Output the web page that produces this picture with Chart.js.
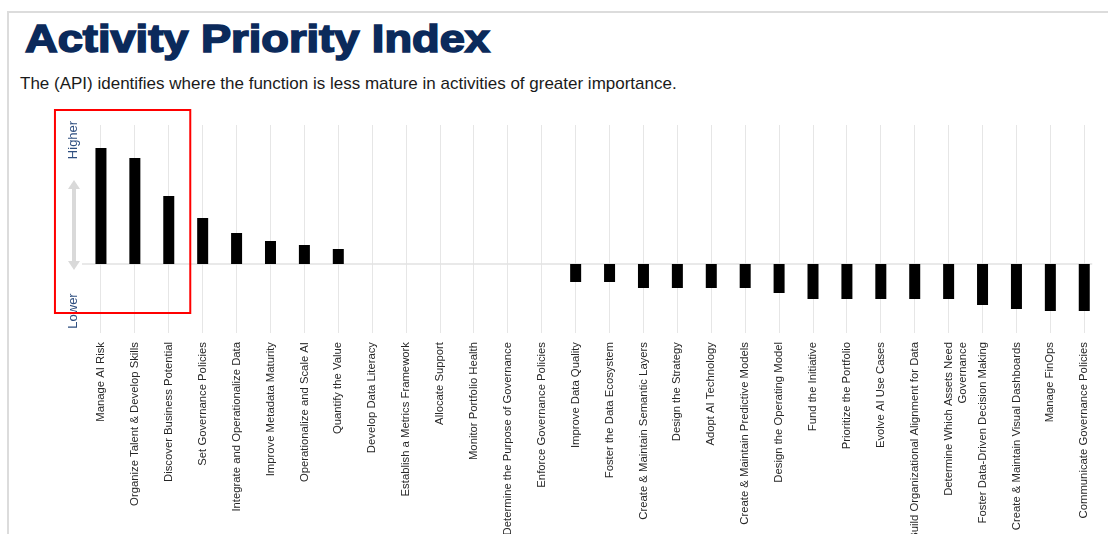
<!DOCTYPE html>
<html>
<head>
<meta charset="utf-8">
<script src="https://cdn.jsdelivr.net/npm/chart.js@4"></script>
<style>
  html, body { margin: 0; padding: 0; background: #ffffff; overflow: hidden; width: 1108px; height: 534px; }
  #frame { position: absolute; left: 7px; top: 11px; width: 1200px; height: 700px; border-top: 2px solid #dcdcdc; border-left: 2px solid #dcdcdc; }
  #title { position: absolute; left: 25px; top: 20px; font-family: "Liberation Sans", Arial, sans-serif; font-weight: bold; font-size: 38px; line-height: 38px; color: #0b2a5b; -webkit-text-stroke: 1.6px #0b2a5b; white-space: nowrap; transform-origin: 0 0; }
  #subtitle { position: absolute; left: 20px; top: 76px; font-family: "Liberation Sans", Arial, sans-serif; font-size: 17px; line-height: 16px; color: #1a1a1a; white-space: nowrap; }
  #wrap { position: absolute; left: 0; top: 0; width: 1108px; height: 640px; }
</style>
</head>
<body>
<div id="frame"></div>
<div id="title">Activity Priority Index</div>
<div id="subtitle">The (API) identifies where the function is less mature in activities of greater importance.</div>
<div id="wrap"><canvas id="c" width="1108" height="640"></canvas></div>
<script>
// ---- data ----
const categories = [
  "Manage AI Risk",
  "Organize Talent & Develop Skills",
  "Discover Business Potential",
  "Set Governance Policies",
  "Integrate and Operationalize Data",
  "Improve Metadata Maturity",
  "Operationalize and Scale AI",
  "Quantify the Value",
  "Develop Data Literacy",
  "Establish a Metrics Framework",
  "Allocate Support",
  "Monitor Portfolio Health",
  "Determine the Purpose of Governance",
  "Enforce Governance Policies",
  "Improve Data Quality",
  "Foster the Data Ecosystem",
  "Create & Maintain Semantic Layers",
  "Design the Strategy",
  "Adopt AI Technology",
  "Create & Maintain Predictive Models",
  "Design the Operating Model",
  "Fund the Initiative",
  "Prioritize the Portfolio",
  "Evolve AI Use Cases",
  "Build Organizational Alignment for Data",
  ["Determine Which Assets Need", "Governance"],
  "Foster Data-Driven Decision Making",
  "Create & Maintain Visual Dashboards",
  "Manage FinOps",
  "Communicate Governance Policies"
];
const priorityIndex = [
  11.6, 10.6, 6.8, 4.6, 3.1, 2.3, 1.9, 1.5,
  0, 0, 0, 0, 0, 0,
  -1.8, -1.8, -2.4, -2.4, -2.4, -2.4, -2.9,
  -3.5, -3.5, -3.5, -3.5, -3.5, -4.1, -4.5, -4.7, -4.7
];
const axisLabels = { high: "Higher", low: "Lower" };
const yRange = { min: -6.1, max: 13.9 };
const highlightCount = 3;

// stretch title to the reference's heavy, wide face
(function () {
  const t = document.getElementById('title');
  const w = t.getBoundingClientRect().width;
  t.style.transform = 'scaleX(' + (465 / w) + ')';
})();

// ---- decorations plugin ----
const decor = {
  id: 'decor',
  beforeDatasetsDraw(chart) {
    const ctx = chart.ctx, ca = chart.chartArea;
    const xs = chart.scales.x, ys = chart.scales.y;
    const y0 = ys.getPixelForValue(0);
    ctx.save();
    ctx.strokeStyle = '#e2e2e2';
    ctx.lineWidth = 1.5;
    ctx.beginPath();
    ctx.moveTo(ca.left - 2, y0);
    ctx.lineTo(xs.getPixelForValue(categories.length - 1) + 8, y0);
    ctx.stroke();
    const ax = ca.left - 10;
    const aTop = ca.top + 55, aBot = ca.top + 145;
    ctx.fillStyle = '#d9d9d9';
    ctx.fillRect(ax - 2, aTop + 8, 4, aBot - aTop - 16);
    ctx.beginPath();
    ctx.moveTo(ax, aTop); ctx.lineTo(ax + 6, aTop + 9); ctx.lineTo(ax - 6, aTop + 9); ctx.closePath(); ctx.fill();
    ctx.beginPath();
    ctx.moveTo(ax, aBot); ctx.lineTo(ax + 6, aBot - 9); ctx.lineTo(ax - 6, aBot - 9); ctx.closePath(); ctx.fill();
    ctx.fillStyle = '#2f4f80';
    ctx.font = '13px "Liberation Sans", Arial, sans-serif';
    ctx.textAlign = 'center';
    ctx.textBaseline = 'middle';
    ctx.save();
    ctx.translate(ax - 1, ca.top + 15);
    ctx.rotate(-Math.PI / 2);
    ctx.fillText(axisLabels.high, 0, 0);
    ctx.restore();
    ctx.save();
    ctx.translate(ax - 1, ca.top + 186);
    ctx.rotate(-Math.PI / 2);
    ctx.fillText(axisLabels.low, 0, 0);
    ctx.restore();
    ctx.restore();
  },
  afterDatasetsDraw(chart) {
    const ctx = chart.ctx, ca = chart.chartArea, xs = chart.scales.x;
    ctx.save();
    ctx.strokeStyle = '#ff0000';
    ctx.lineWidth = 2;
    const l = xs.getPixelForValue(0) - 46;
    const r = xs.getPixelForValue(highlightCount - 1) + 21.5;
    ctx.strokeRect(l, ca.top - 15, r - l, 203);
    ctx.restore();
  }
};

new Chart(document.getElementById('c'), {
  type: 'bar',
  data: {
    labels: categories,
    datasets: [{
      data: priorityIndex,
      backgroundColor: '#000000',
      borderWidth: 0,
      inflateAmount: 0,
      barThickness: 11
    }]
  },
  options: {
    responsive: false,
    animation: false,
    devicePixelRatio: 1,
    layout: { padding: { left: 84, right: 3, top: 125, bottom: 0 } },
    plugins: { legend: { display: false }, tooltip: { enabled: false }, title: { display: false } },
    scales: {
      x: {
        offset: true,
        grid: { offset: false, color: '#e6e6e6', lineWidth: 1, drawTicks: true, tickLength: 8 },
        border: { display: false },
        ticks: {
          autoSkip: false, minRotation: 90, maxRotation: 90, padding: 9,
          color: '#262626',
          font: { family: '"Liberation Sans", Arial, sans-serif', size: 11.3, lineHeight: 1.3 }
        },
        afterFit(scale) { scale.height = 315; }
      },
      y: {
        display: false,
        min: yRange.min, max: yRange.max
      }
    }
  },
  plugins: [decor]
});
</script>
</body>
</html>
